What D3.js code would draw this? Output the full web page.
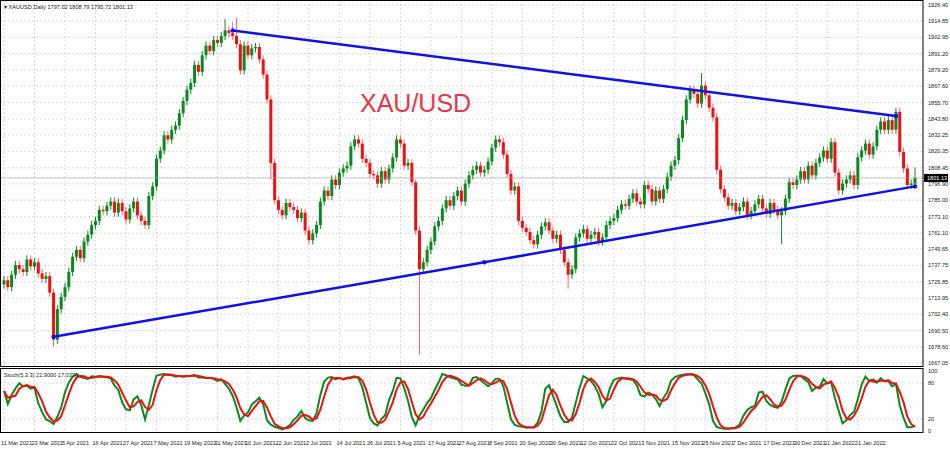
<!DOCTYPE html><html><head><meta charset="utf-8">
<script src="https://cdn.jsdelivr.net/npm/d3@7"></script>
<style>body{margin:0;background:#fff}text{font-family:"Liberation Sans",Arial,sans-serif}</style></head><body>
<svg id="c" width="950" height="451"></svg>
<script>
const closes=[1727,1722,1731,1738,1735,1733,1742,1737,1740,1732,1728,1730,1718,1684,1706,1715,1722,1733,1744,1749,
1743,1755,1760,1767,1770,1778,1777,1781,1784,1776,1783,1777,1771,1779,1784,1774,1770,1767,1788,1795,
1815,1821,1832,1829,1836,1839,1848,1857,1865,1870,1883,1878,1890,1897,1893,1901,1899,1904,1908,1906,
1904,1898,1879,1897,1890,1895,1896,1887,1876,1858,1812,1785,1778,1774,1783,1780,1778,1772,1776,1763,
1756,1761,1767,1784,1792,1788,1800,1796,1805,1808,1810,1824,1829,1826,1815,1812,1804,1803,1797,1806,
1800,1808,1816,1829,1826,1810,1812,1798,1763,1735,1740,1749,1755,1766,1770,1779,1785,1781,1788,1792,
1784,1797,1803,1807,1810,1805,1807,1813,1823,1829,1827,1818,1804,1792,1795,1770,1765,1762,1756,1753,
1760,1766,1769,1763,1757,1760,1749,1740,1731,1735,1758,1761,1764,1757,1760,1762,1755,1758,1767,1770,
1772,1778,1782,1781,1786,1790,1784,1782,1796,1793,1784,1792,1786,1793,1802,1810,1814,1830,1843,1858,
1865,1862,1855,1868,1861,1852,1845,1807,1793,1787,1781,1783,1777,1780,1784,1774,1777,1782,1786,1779,
1775,1783,1778,1774,1777,1786,1798,1796,1800,1806,1800,1810,1803,1812,1816,1821,1815,1827,1805,1792,
1797,1800,1803,1796,1816,1821,1826,1818,1824,1836,1842,1836,1843,1836,1849,1820,1808,1796,1797.02,1801.13];
const firstOpen=1724;
const spikes=[{i:13,low:1679},{i:58,high:1916},{i:60,high:1914},{i:61,high:1917},{i:109,low:1673},{i:148,low:1721},{i:183,high:1877},{i:204,low:1753},{i:239,high:1808.79,low:1795.72},{i:70,low:1800},{i:108,high:1800}];
const priceTicks=[1926.40,1914.85,1902.95,1891.20,1879.20,1867.60,1855.70,1843.80,1832.25,1820.35,1808.45,1796.90,1785.00,1773.10,1761.10,1749.65,1737.75,1725.85,1713.95,1702.40,1690.50,1678.60,1667.05];
const dateLabels=["11 Mar 2021","23 Mar 2021","5 Apr 2021","16 Apr 2021","27 Apr 2021","7 May 2021","19 May 2021","31 May 2021","10 Jun 2021","22 Jun 2021","2 Jul 2021","14 Jul 2021","26 Jul 2021","5 Aug 2021","17 Aug 2021","27 Aug 2021","8 Sep 2021","20 Sep 2021","30 Sep 2021","12 Oct 2021","22 Oct 2021","3 Nov 2021","15 Nov 2021","25 Nov 2021","7 Dec 2021","17 Dec 2021","30 Dec 2021","11 Jan 2022","21 Jan 2022"];
const upperLine=[[60,1908],[234,1846]];
const lowerLine=[[13,1686],[126,1740],[239,1795]];
const stochTicks=[100,80,20,0];

const bars=closes.map((c,i)=>{const o=i?closes[i-1]:firstOpen;let h=Math.max(o,c)+3,l=Math.min(o,c)-3;
 const s=spikes.find(s=>s.i===i);if(s){if(s.high)h=s.high;if(s.low)l=s.low;}return {i,o,h,l,c};});
const K=[],D=[];const rawK=bars.map((b,i)=>{const w=bars.slice(Math.max(0,i-4),i+1);const hh=d3.max(w,d=>d.h),ll=d3.min(w,d=>d.l);return {n:b.c-ll,d:hh-ll};});
rawK.forEach((r,i)=>{const w=rawK.slice(Math.max(0,i-2),i+1);K.push(100*d3.sum(w,d=>d.n)/d3.sum(w,d=>d.d));});
K.forEach((k,i)=>{D.push(d3.mean(K.slice(Math.max(0,i-2),i+1)));});

const svg=d3.select("#c");
const R=923,x=d3.scaleLinear().domain([0,239]).range([4,915]);
const y=d3.scaleLinear().domain([1667.05,1926.40]).range([363,5]);
const ys=d3.scaleLinear().domain([0,100]).range([431,371]);
const grid="#c8c8c8",fs=5.6;
dateLabels.forEach((t,k)=>{svg.append("line").attr("x1",x(k*8)).attr("x2",x(k*8)).attr("y1",0).attr("y2",433).attr("stroke",grid).attr("stroke-dasharray","2,2").attr("stroke-width",0.7);
 svg.append("text").attr("x",x(k*8)-3).attr("y",445).attr("font-size",fs).attr("fill","#222").text(t);});
priceTicks.forEach(p=>{svg.append("line").attr("x1",0).attr("x2",R).attr("y1",y(p)).attr("y2",y(p)).attr("stroke",grid).attr("stroke-dasharray","2,2").attr("stroke-width",0.7);
 svg.append("text").attr("x",R+5).attr("y",y(p)+2).attr("font-size",fs).attr("fill","#222").text(p.toFixed(2));});
[80,20].forEach(v=>svg.append("line").attr("x1",0).attr("x2",R).attr("y1",ys(v)).attr("y2",ys(v)).attr("stroke",grid).attr("stroke-dasharray","2,2").attr("stroke-width",0.7));
stochTicks.forEach(v=>svg.append("text").attr("x",R+5).attr("y",ys(v)+2).attr("font-size",fs).attr("fill","#222").text(v));
const g=svg.append("g");
bars.forEach(b=>{const col=b.c>=b.o?"#0a8a1e":"#f01010";
 g.append("line").attr("x1",x(b.i)).attr("x2",x(b.i)).attr("y1",y(b.h)).attr("y2",y(b.l)).attr("stroke",b.c>=b.o?"#0a8a1e":"#ff6070").attr("stroke-width",1);
 const t=y(Math.max(b.o,b.c)),bt=y(Math.min(b.o,b.c));
 g.append("rect").attr("x",x(b.i)-1.5).attr("y",t).attr("width",3).attr("height",Math.max(1,bt-t)).attr("fill",col);});
const ln=d3.line().x(d=>x(d[0])).y(d=>y(d[1]));
[upperLine,lowerLine].forEach(L=>svg.append("path").attr("d",ln(L)).attr("fill","none").attr("stroke","#1010e8").attr("stroke-width",2.5));
[upperLine[0],upperLine[1],lowerLine[0],lowerLine[1],lowerLine[2]].forEach(d=>svg.append("circle").attr("cx",x(d[0])).attr("cy",y(d[1])).attr("r",2.2).attr("fill","#1010e8"));
svg.append("text").attr("x",360).attr("y",112).attr("font-size",25).attr("fill","#e8354a").text("XAU/USD");
const last=closes[closes.length-1];
svg.append("line").attr("x1",0).attr("x2",R).attr("y1",y(last)).attr("y2",y(last)).attr("stroke","#999").attr("stroke-width",0.6);
svg.append("rect").attr("x",R+1).attr("y",y(last)-4).attr("width",24).attr("height",8).attr("fill","#000");
svg.append("text").attr("x",R+4).attr("y",y(last)+2).attr("font-size",fs).attr("fill","#fff").text(last.toFixed(2));
const sl=d3.line().x((d,i)=>x(i)).y(d=>ys(d));
svg.append("path").attr("d",sl(K)).attr("fill","none").attr("stroke","#0a8a1e").attr("stroke-width",2);
svg.append("path").attr("d",sl(D)).attr("fill","none").attr("stroke","#f01010").attr("stroke-width",2);
svg.append("rect").attr("x",0.5).attr("y",0.5).attr("width",R-0.5).attr("height",366).attr("fill","none").attr("stroke","#000");
svg.append("rect").attr("x",0.5).attr("y",368.5).attr("width",R-0.5).attr("height",64).attr("fill","none").attr("stroke","#000");
svg.append("text").attr("x",4).attr("y",9).attr("font-size",fs).attr("fill","#222").text("▾ XAUUSD,Daily  1797.02 1808.79 1795.72 1801.13");
svg.append("text").attr("x",4).attr("y",377).attr("font-size",fs).attr("fill","#222").text("Stoch(5,3,3) 22.9000 17.0336");
</script></body></html>
